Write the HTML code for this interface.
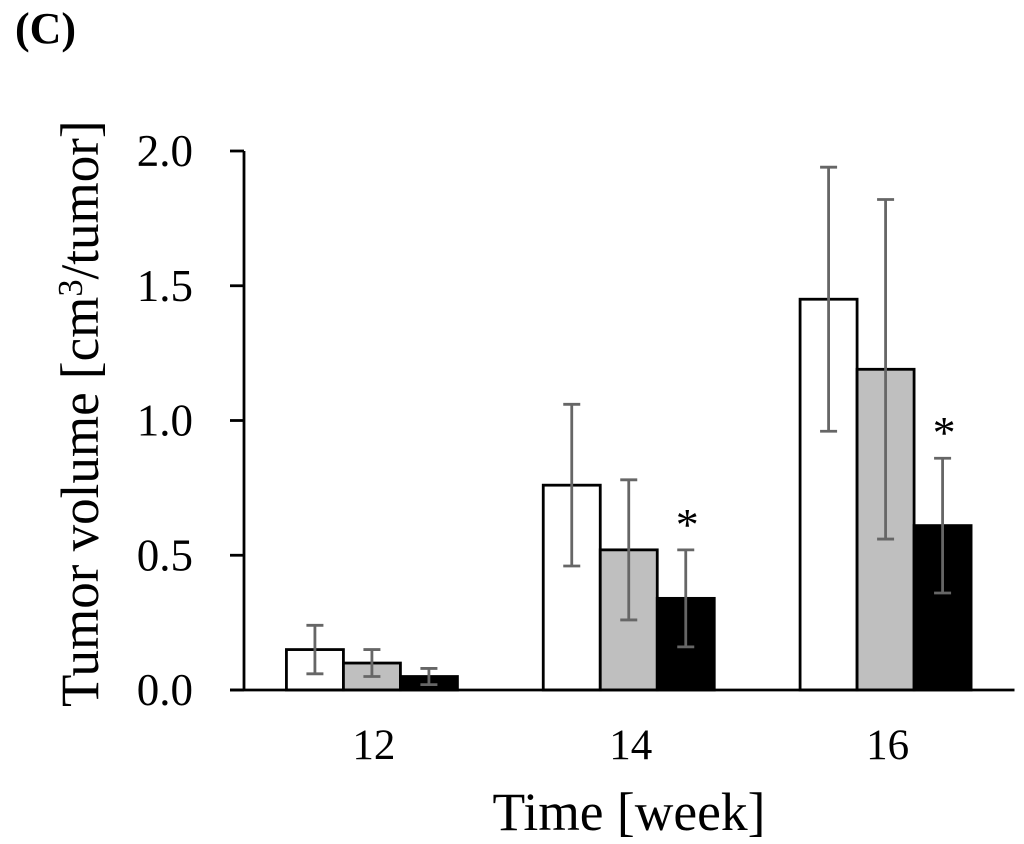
<!DOCTYPE html>
<html>
<head>
<meta charset="utf-8">
<style>
html,body{margin:0;padding:0;background:#fff;}
svg{display:block;}
text{font-family:"Liberation Serif",serif;fill:#000;}
</style>
</head>
<body>
<svg id="chart" width="1024" height="844" viewBox="0 0 1024 844" xmlns="http://www.w3.org/2000/svg">
<text x="15" y="43" font-size="44" font-weight="bold">(C)</text>
<text transform="translate(98,707) rotate(-90) scale(0.982,1)" font-size="54">Tumor volume [cm<tspan font-size="35" dy="-16">3</tspan><tspan dy="16">/tumor]</tspan></text>
<text x="629" y="830" font-size="53.5" text-anchor="middle">Time [week]</text>
<g id="marks"></g>
<g id="axes"></g>
</svg>
<script>
const categories = ['12', '14', '16'];
const controlValues = [0.15, 0.76, 1.45];
const middleValues = [0.10, 0.52, 1.19];
const treatedValues = [0.05, 0.34, 0.61];
const controlErrors = [0.09, 0.30, 0.49];
const middleErrors = [0.05, 0.26, 0.63];
const treatedErrors = [0.03, 0.18, 0.25];
const significant = [false, true, true];
const yTicks = ['0.0', '0.5', '1.0', '1.5', '2.0'];

const NS = 'http://www.w3.org/2000/svg';
const y0 = 690, yTop = 151, xLeft = 244, xRight = 1014.5;
const yMax = 2.0;
const barW = 57;
const groupShift = -0.5;
function yScale(v){ return y0 - (v / yMax) * (y0 - yTop); }
function xCenter(i){ return xLeft + (xRight - xLeft) * (i + 0.5) / categories.length; }
function make(tag, attrs, parent){
  const el = document.createElementNS(NS, tag);
  for (const k in attrs) el.setAttribute(k, attrs[k]);
  parent.appendChild(el);
  return el;
}
const marks = document.getElementById('marks');
const axes = document.getElementById('axes');
const seriesList = [
  {key:'control', vals:controlValues, errs:controlErrors, fill:'#ffffff', off:-1},
  {key:'middle', vals:middleValues, errs:middleErrors, fill:'#bfbfbf', off:0},
  {key:'treated', vals:treatedValues, errs:treatedErrors, fill:'#000000', off:1}
];
seriesList.forEach(function(s){
  s.vals.forEach(function(v, i){
    const cx = xCenter(i) + groupShift + s.off * barW;
    const bar = make('rect', {x:cx - barW/2, y:yScale(v), width:barW, height:y0 - yScale(v), fill:s.fill, stroke:'#000', 'stroke-width':2.8}, marks);
    
    
  });
});
seriesList.forEach(function(s){
  s.vals.forEach(function(v, i){
    const cx = xCenter(i) + groupShift + s.off * barW;
    const e = s.errs[i];
    const top = yScale(v + e), bot = yScale(v - e);
    const g = make('g', {stroke:'#666666', 'stroke-width':2.8, fill:'none'}, marks);
    
    
    make('line', {x1:cx, x2:cx, y1:top, y2:bot}, g);
    make('line', {x1:cx-8.5, x2:cx+8.5, y1:top, y2:top}, g);
    make('line', {x1:cx-8.5, x2:cx+8.5, y1:bot, y2:bot}, g);
  });
});
significant.forEach(function(sig, i){
  if (!sig) return;
  const cx = xCenter(i) + barW + 1;
  const t = make('text', {x:cx, y:yScale(treatedValues[i] + treatedErrors[i]) - 10, 'font-size':46, 'text-anchor':'middle'}, marks);
  t.textContent = '*';
  
  
});
const yAxis = make('line', {x1:xLeft, x2:xLeft, y1:yTop, y2:y0, stroke:'#000', 'stroke-width':2.8}, axes);


const xAxis = make('line', {x1:xLeft - 14, x2:xRight, y1:y0, y2:y0, stroke:'#000', 'stroke-width':2.8}, axes);


yTicks.forEach(function(label){
  const yy = yScale(parseFloat(label));
  const tick = make('line', {x1:xLeft - 14, x2:xLeft, y1:yy, y2:yy, stroke:'#000', 'stroke-width':2.8}, axes);
  
  
  const t = make('text', {x:193, y:yy + 15, 'font-size':45, 'text-anchor':'end'}, axes);
  t.textContent = label;
  
  
});
categories.forEach(function(label, i){
  const t = make('text', {x:xCenter(i) + 1.5, y:759, 'font-size':43, 'text-anchor':'middle'}, axes);
  t.textContent = label;
  
  
});
</script>
</body>
</html>
